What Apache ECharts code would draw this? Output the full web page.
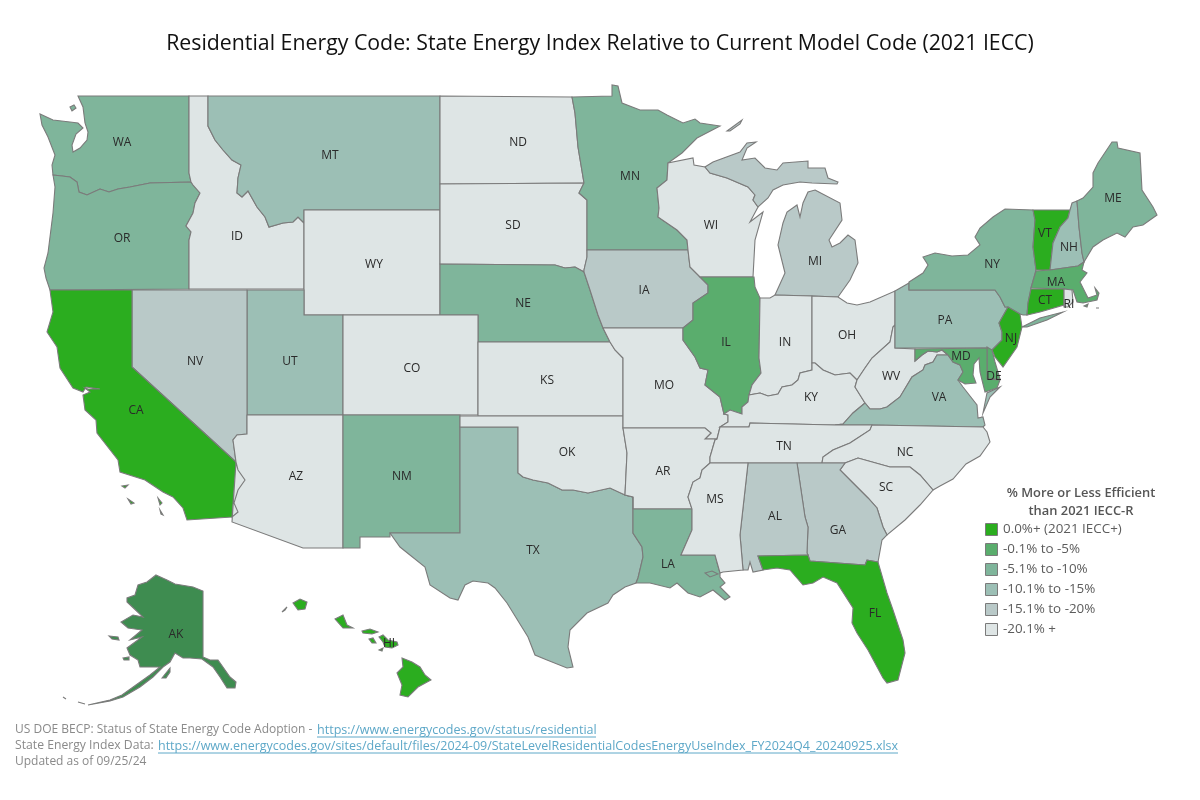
<!DOCTYPE html>
<html><head><meta charset="utf-8">
<style>html,body{margin:0;padding:0;background:#fff}#c{width:1200px;height:800px}</style>
<script src="https://cdn.jsdelivr.net/npm/echarts@6/dist/echarts.min.js"></script>
</head><body><div id="c"></div>
<script>
// ---------- data ----------
const binLabels = ['0.0%+ (2021 IECC+)','-0.1% to -5%','-5.1% to -10%','-10.1% to -15%','-15.1% to -20%','-20.1% +'];
const binColors = ['#2bad1f','#5aad6d','#7fb59b','#9cbfb5','#b9c9c8','#dee5e5'];
const outsideLegendColor = '#3e8c50';
const statesBin0 = ['CA','FL','VT','CT','NJ','HI'];
const statesBin1 = ['IL','MA','MD','DE'];
const statesBin2 = ['WA','OR','MN','NE','NM','NY','ME','LA'];
const statesBin3 = ['MT','UT','TX','PA','VA','NH'];
const statesBin4 = ['NV','IA','MI','AL','GA'];
const statesBin5 = ['ID','WY','ND','SD','CO','KS','OK','MO','AR','MS','WI','IN','OH','KY','TN','WV','NC','SC','AZ','RI'];
const statesOutside = ['AK'];

// ---------- shared borders (map outline geometry) ----------
const WA_OR=[[53,175],[62,176],[70,177],[77,182],[79,192],[87,195],[100,189],[109,192],[118,189],[130,187],[150,183],[191,182]];
const OR_ID=[[191,182],[193,185],[200,193],[195,203],[193,213],[186,226],[191,232],[189,240],[189,289]];
const ID_MT=[[208,96],[208,126],[215,140],[223,150],[232,160],[241,165],[238,178],[237,193],[242,197],[248,191],[257,207],[265,217],[269,227],[283,223],[293,222],[298,217],[304,223]];
const NV_CA=[[132,290],[132,367],[236,462]];
const CA_AZ=[[236,462],[238,470],[245,480],[238,490],[234,503],[238,512],[232,517]];
const NV_AZ=[[247,415],[247,434],[237,435],[233,440],[236,462]];
const ND_MN=[[572,97],[575,113],[578,147],[584,183]];
const SD_MN=[[584,183],[579,193],[587,200],[587,250]];
const SD_IA=[[587,250],[587,257],[584,270],[584,272]];
const SD_NE=[[440,264],[555,265],[565,268],[575,267],[584,272]];
const NE_IA=[[584,272],[590,290],[598,315],[603,328]];
const NE_MO=[[603,328],[610,342]];
const KS_MO=[[610,342],[615,350],[623,358],[623,416]];
const OK_AR=[[623,428],[627,453],[625,495]];
const TX_RED=[[518,473],[523,477],[533,480],[548,483],[562,490],[573,490],[588,493],[610,488],[625,495],[633,497]];
const TX_LA=[[633,533],[642,547],[643,557],[638,578],[636,583]];
const MN_WI=[[668,163],[667,180],[657,188],[659,208],[658,217],[677,230],[687,240],[688,250]];
const IA_WI=[[688,250],[690,267],[700,277]];
const IA_IL=[[700,277],[708,285],[708,293],[693,303],[693,320],[683,328]];
const MO_IL=[[683,328],[683,340],[695,357],[700,368],[708,370],[705,385],[720,397],[724,414]];
const MO_KY=[[724,414],[728,415],[728,422],[720,427]];
const MO_TN=[[720,427],[717,439]];
const MO_AR=[[717,439],[705,439],[711,433],[705,428],[623,428]];
const AR_TN=[[717,439],[715,440],[710,457],[710,463]];
const AR_MS=[[710,463],[702,470],[700,478],[693,482],[688,497],[692,509]];
const LA_MS=[[692,509],[692,530],[681,555],[715,555],[720,573]];
const WI_MI=[[705,167],[710,173],[727,178],[748,187],[755,195],[753,200],[758,207]];
const IL_IN=[[760,298],[759,358],[761,373],[752,385],[749,395]];
const IL_KY=[[749,395],[748,402],[742,407],[742,414],[730,410],[724,414]];
const IN_KY=[[812,363],[812,370],[800,373],[798,380],[792,385],[782,387],[778,394],[768,396],[760,393],[749,395]];
const OH_KY=[[812,363],[815,363],[823,370],[835,375],[850,373],[857,380]];
const OH_WV=[[857,380],[865,368],[872,358],[890,342],[893,327],[895,325]];
const KY_WV=[[857,380],[855,387],[865,403]];
const KY_VA=[[865,403],[853,413],[843,424],[835,425]];
const WV_VA=[[865,403],[870,409],[880,409],[887,407],[900,397],[912,377],[923,370],[925,365],[933,362],[937,355],[948,355]];
const WV_MD=[[915,349],[915,361],[922,355],[928,351],[937,352],[942,350],[948,355]];
const TN_TOP=[[720,427],[749,427],[750,423],[835,425]];
const TN_NC=[[872,425],[870,430],[850,443],[833,450],[823,457],[822,463]];
const NC_SC=[[845,463],[858,458],[890,467],[910,467],[920,475],[933,490]];
const SC_GA=[[845,463],[840,470],[853,483],[868,498],[877,508],[883,527],[887,535]];
const AL_GA=[[797,463],[805,517],[808,527],[807,553],[808,555]];
const AL_MS=[[748,463],[740,535],[743,570]];
const VT_NH=[[1070,210],[1068,218],[1060,227],[1053,243],[1050,270]];
const NY_VT=[[1033,210],[1035,220],[1033,247],[1036,270]];
const NY_MA=[[1036,270],[1031,288]];
const NY_CT=[[1031,288],[1028,303],[1027,315]];
const NY_PA=[[909,290],[995,290],[1000,297],[1005,307],[1008,307]];
const PA_NJ=[[1008,307],[999,323],[1002,332],[1002,340],[992,350]];
const NH_ME=[[1077,201],[1079,227],[1082,253],[1084,262]];
const C=(...a)=>[].concat(...a);
const R=a=>a.slice().reverse();

// ---------- state shapes ----------
const shapes = {
 WA:[C([[78,96],[189,96],[189,173],[191,182]],R(WA_OR),[[52,165],[55,155],[48,137],[42,125],[40,114],[53,120],[70,122],[78,123],[83,128],[76,134],[72,145],[73,152],[80,148],[87,140],[88,132],[85,123],[83,107]]),[[70,107],[74,105],[76,108],[72,111]]],
 OR:[C(WA_OR,OR_ID,[[50,290],[46,278],[44,268],[48,253],[53,213],[55,187]])],
 ID:[C([[189,96]],ID_MT,[[304,289]],R(OR_ID),[[191,182],[189,173]])],
 MT:[C(ID_MT,[[304,210],[440,210],[440,96]])],
 WY:[[[304,210],[440,210],[440,315],[304,315]]],
 ND:[C([[440,96]],ND_MN,[[440,184]])],
 SD:[C([[440,184],[584,183]],SD_MN,SD_IA,R(SD_NE))],
 NE:[C(SD_NE,NE_IA,NE_MO,[[478,342],[478,315],[440,315]])],
 UT:[[[247,290],[304,290],[304,315],[343,315],[343,415],[247,415]]],
 CO:[[[343,315],[478,315],[478,415],[343,415]]],
 NV:[C(NV_CA,R(NV_AZ),[[247,290]])],
 CA:[C([[50,290]],NV_CA,CA_AZ,[[187,520],[183,508],[173,497],[163,492],[145,480],[120,472],[118,460],[97,433],[96,420],[85,410],[83,395],[90,392],[85,388],[84,389],[88,389],[100,389],[86,387],[83,392],[73,388],[60,368],[57,347],[47,332],[53,312]]),
     [[122,486],[128,485],[125,488]],[[128,499],[134,503],[131,504]],[[158,498],[162,503],[160,505]],[[160,510],[163,515],[161,514]]],
 AZ:[C(NV_AZ,R(CA_AZ),[[232,522],[303,548],[343,548],[343,415]])],
 NM:[[[343,415],[460,415],[460,533],[390,533],[390,537],[360,537],[360,548],[343,548]]],
 TX:[C([[460,427],[518,427]],TX_RED,TX_LA,[[625,587],[613,595],[608,603],[587,613],[570,630],[568,647],[573,667],[567,668],[547,660],[535,655],[528,637],[507,603],[495,588],[488,583],[473,581],[465,585],[458,600],[450,598],[430,585],[425,567],[400,547],[390,533],[460,533]])],
 KS:[C([[478,342]],R(NE_MO).slice(0,1),KS_MO,[[478,416]])],
 OK:[C([[460,416],[623,416]],OK_AR,R(TX_RED),[[518,427],[460,427]])],
 MN:[C(ND_MN.slice(0,1),[[612,96],[612,85],[618,86],[622,103],[640,110],[658,110],[667,115],[683,123],[695,119],[700,123],[720,126],[697,138],[682,153]],MN_WI,R(SD_MN),R(ND_MN))],
 IA:[C([[587,250],[688,250]],IA_WI,IA_IL,[[603,328]],R(NE_IA),R(SD_IA))],
 MO:[C([[603,328],[683,328]],MO_IL,MO_KY,MO_TN,MO_AR,[[623,416]],R(KS_MO),[[610,342]])],
 AR:[C(R(MO_AR),AR_TN,AR_MS,[[633,509],[633,497],[625,495]],R(OK_AR))],
 LA:[C([[633,497],[633,509]],LA_MS,[[720,577],[725,583],[720,587],[730,597],[725,600],[713,590],[700,597],[688,593],[677,583],[670,588],[650,583]],R(TX_LA))],
 WI:[C(R(MN_WI),[[668,163],[693,158],[694,165]],WI_MI,[[750,222],[763,212],[755,240],[753,277]],R(IA_WI))],
 MI:[C(R(WI_MI),[[713,162],[740,152],[747,143],[756,142],[747,148],[742,160],[755,158],[765,168],[777,170],[783,163],[808,161],[808,168],[825,168],[828,178],[838,182],[837,184],[812,183],[800,182],[783,185],[773,190],[768,198]]),
     [[815,190],[840,203],[842,220],[829,240],[832,247],[840,243],[848,235],[855,240],[858,263],[850,280],[838,297],[812,296],[775,295],[785,273],[778,245],[783,223],[787,212],[797,205],[800,217],[803,203],[808,192]],
     [[727,131],[742,120],[740,124],[730,131]]],
 IL:[C([[700,277],[754,277],[755,287],[760,298]],IL_IN,IL_KY,R(MO_IL),R(IA_IL))],
 IN:[C([[760,298],[770,298],[775,295],[812,296]],IN_KY,R(IL_IN))],
 OH:[C([[812,296],[838,297],[847,303],[857,305],[870,302],[895,291],[895,325]],R(OH_WV),R(OH_KY))],
 KY:[C(OH_KY,KY_WV,KY_VA,R(TN_TOP),R(MO_KY).slice(1),R(IL_KY),R(IN_KY))],
 WV:[C(OH_WV,[[895,348],[915,349]],WV_MD,R(WV_VA),R(KY_WV))],
 VA:[C(R(KY_VA),WV_VA,[[953,362],[960,365],[963,372],[958,380],[963,387],[977,405],[978,418],[983,417],[985,425],[983,427],[872,425]]),[[983,413],[990,397],[997,390],[1000,387],[987,393]]],
 TN:[C(TN_TOP,[[872,425]],TN_NC,[[748,463],[710,463]],R(AR_TN))],
 NC:[C([[872,425],[983,427],[987,432],[990,442],[980,456],[966,464],[953,479],[940,486],[933,490]],R(NC_SC),[[822,463]],R(TN_NC))],
 SC:[C(NC_SC,[[920,505],[905,520],[887,535]],R(SC_GA))],
 GA:[C([[797,463],[845,463]],SC_GA,[[882,540],[878,562],[867,560],[865,565],[810,561]],R(AL_GA))],
 AL:[C([[748,463]],AL_GA,[[758,556],[763,570],[753,572],[750,562],[748,570],[743,570]],R(AL_MS))],
 MS:[C([[710,463]],AL_MS,[[723,572]],R(LA_MS),R(AR_MS))],
 FL:[[[758,556],[808,555],[810,561],[865,565],[867,560],[878,562],[887,593],[893,610],[903,640],[905,653],[898,680],[887,683],[883,678],[868,650],[857,633],[852,623],[853,608],[837,583],[823,577],[813,583],[803,585],[790,570],[777,568],[763,570]]],
 PA:[C([[895,291],[909,283]],NY_PA,PA_NJ,[[987,348],[895,348]])],
 NY:[C([[909,282],[923,273],[928,265],[923,257],[935,253],[952,256],[968,255],[980,245],[975,237],[980,228],[993,217],[1005,209],[1033,210]],NY_VT.slice(1),NY_MA.slice(1),NY_CT.slice(1),[[1023,315],[1020,314]],R(NY_PA)),[[1022,327],[1040,318],[1063,312],[1047,320],[1027,327]]],
 NJ:[C([[1008,307],[1020,314],[1022,327],[1017,347],[1003,367],[995,357]],R(PA_NJ))],
 DE:[[[987,347],[992,350],[995,362],[1000,379],[987,379]]],
 MD:[C([[915,349],[987,348],[987,379],[1000,380],[997,388],[985,392],[983,384],[980,372],[979,358],[974,364],[973,375],[976,383],[965,384],[958,380],[963,372],[960,365],[953,362]],R(WV_MD))],
 VT:[C(NY_VT,R(VT_NH))],
 NH:[C(VT_NH.slice(0,1),[[1072,203]],NH_ME,[[1078,266]],R(VT_NH))],
 ME:[C(NH_ME.slice(0,1),[[1083,198],[1093,187],[1093,173],[1098,163],[1112,142],[1117,142],[1118,148],[1140,153],[1142,190],[1153,207],[1157,215],[1143,225],[1133,227],[1125,237],[1117,233],[1103,240],[1093,247]],[[1084,262]],R(NH_ME))],
 MA:[[[1036,271],[1050,270],[1078,266],[1084,262],[1082,270],[1087,273],[1080,282],[1088,298],[1097,295],[1095,288],[1099,293],[1097,300],[1083,303],[1077,302],[1073,290],[1064,289],[1031,288]],[[1084,306],[1088,304],[1087,307]],[[1096,308],[1099,308],[1098,309]]],
 CT:[[[1031,289],[1064,289],[1064,305],[1040,312],[1027,315],[1028,303]]],
 RI:[[[1064,289],[1072,290],[1073,302],[1068,307],[1064,307]]],
 AK:[[[156,575],[167,580],[175,584],[193,587],[203,591],[203,657],[210,660],[218,660],[230,677],[236,682],[235,688],[227,688],[220,677],[213,667],[202,659],[190,658],[183,658],[175,653],[170,662],[163,667],[153,677],[140,687],[123,697],[110,701],[88,705],[88,704],[110,700],[122,695],[136,685],[150,675],[160,667],[153,667],[140,667],[138,660],[130,655],[127,648],[142,637],[130,640],[142,630],[128,628],[121,622],[133,615],[143,617],[127,602],[127,598],[135,595],[138,585],[147,582]],
     [[109,636],[118,637],[119,640],[112,639]],[[123,658],[129,657],[129,660],[124,660]],[[162,678],[170,668],[170,672],[166,678]],[[63,697],[66,699],[65,700]],[[78,702],[85,704],[84,705]]],
 HI:[[[293,603],[300,599],[307,602],[305,609],[298,610]],[[282,612],[287,607],[285,610]],[[335,619],[343,615],[347,625],[353,628],[343,628]],[[362,631],[370,629],[378,632],[372,634],[363,633]],[[369,639],[373,638],[376,643],[372,643]],[[379,637],[383,635],[388,640],[397,642],[398,645],[392,648],[385,647],[383,642]],[[379,650],[383,648],[382,651]],[[402,658],[412,662],[420,667],[425,675],[431,680],[418,687],[408,697],[400,695],[402,685],[397,673],[403,667]]]
};
const holes = { LA:[[[705,573],[712,571],[718,574],[710,577]]] };
const labelAnchors = {WA:[122,141],OR:[122,237],CA:[136,409],NV:[195,360],ID:[237,235],MT:[330,154],WY:[374,263],UT:[290,360],AZ:[296,475],CO:[412,367],NM:[402,475],ND:[518,141],SD:[513,224],NE:[523,302],KS:[547,379],OK:[567,451],TX:[533,549],MN:[630,175],IA:[644,289],MO:[664,384],AR:[663,470],LA:[668,563],WI:[711,224],IL:[726,341],IN:[785,341],MI:[815,260],OH:[847,334],KY:[811,396],TN:[784,445],MS:[715,498],AL:[775,515],GA:[838,529],FL:[875,612],SC:[886,486],NC:[905,451],VA:[939,396],WV:[891,375],PA:[945,319],NY:[992,263],VT:[1045,232],NH:[1069,246],ME:[1113,197],MA:[1056,281],CT:[1045,299],RI:[1069,303],NJ:[1011,337],DE:[994,375],MD:[961,355],AK:[176,633],HI:[389,642]};

const close = r => r.concat([r[0]]);
const geoJson = {type:'FeatureCollection',features:Object.keys(shapes).map(k=>({
  type:'Feature',
  properties:{name:k,cp:labelAnchors[k]},
  geometry:{type:'MultiPolygon',coordinates:shapes[k].map((r,i)=>{
    const rings=[close(r)];
    if(i===0&&holes[k]) holes[k].forEach(h=>rings.push(close(h)));
    return rings;
  })}
}))};
echarts.registerMap('usStates',geoJson);

const bins=[statesBin0,statesBin1,statesBin2,statesBin3,statesBin4,statesBin5,statesOutside];
const seriesData=[];
bins.forEach((list,i)=>list.forEach(name=>seriesData.push({name,value:i})));

const FONT='"Open Sans"';
const legendTop=523, legendLeft=985, legendPitch=20, legendBox=12;
const boxes=binLabels.map((_,i)=>({type:'rect',silent:true,z:100,
  shape:{x:legendLeft+.5,y:legendTop+i*legendPitch+.5,width:legendBox,height:legendBox},
  style:{fill:'none',stroke:'#7b7b7b',lineWidth:1}}));
const footText=(t,x,y,c,s)=>({type:'text',silent:true,x,y,style:{text:t,fill:c,font:(s||12)+'px '+FONT,textVerticalAlign:'middle'}});
const footLine=(x1,x2,y)=>({type:'line',silent:true,shape:{x1,y1:y,x2,y2:y},style:{stroke:'#5ea8c8',lineWidth:1}});
const linkA='https://www.energycodes.gov/status/residential';
const linkB='https://www.energycodes.gov/sites/default/files/2024-09/StateLevelResidentialCodesEnergyUseIndex_FY2024Q4_20240925.xlsx';

const chart=echarts.init(document.getElementById('c'),null,{renderer:'canvas'});
chart.setOption({
  animation:false,
  backgroundColor:'#fff',
  title:{text:'Residential Energy Code: State Energy Index Relative to Current Model Code (2021 IECC)',left:'center',top:28,
    textStyle:{fontFamily:FONT,fontSize:21.3,fontWeight:'normal',color:'#111'}},
  visualMap:{type:'piecewise',seriesIndex:0,left:legendLeft,top:legendTop,padding:0,itemWidth:13,itemHeight:13,itemGap:legendPitch-13,textGap:5,
    selectedMode:false,hoverLink:false,align:'left',inverse:true,
    pieces:binLabels.map((label,i)=>({value:i,label,color:binColors[i]})),
    outOfRange:{color:outsideLegendColor},
    textStyle:{fontFamily:FONT,fontSize:13.4,color:'#5c5c5c'}},
  series:[{type:'map',map:'usStates',silent:true,
    projection:{project:p=>p,unproject:p=>p},
    boundingCoords:[[0,0],[1200,800]],left:0,top:0,width:1200,height:800,
    itemStyle:{borderColor:'#7b7b7b',borderWidth:1.1},
    label:{show:true,fontFamily:FONT,fontSize:12,color:'#2a2a2a',offset:[0,1.5]},
    emphasis:{disabled:true},select:{disabled:true},selectedMode:false,
    data:seriesData}],
  graphic:[...boxes,
    {type:'text',silent:true,x:1081,y:493,style:{text:'% More or Less Efficient',fill:'#555',font:'600 12.9px '+FONT,textAlign:'center',textVerticalAlign:'middle'}},
    {type:'text',silent:true,x:1081,y:511,style:{text:'than 2021 IECC-R',fill:'#555',font:'600 12.9px '+FONT,textAlign:'center',textVerticalAlign:'middle'}},
    footText('US DOE BECP: Status of State Energy Code Adoption - ',15,730,'#8a8a8a'),
    footText(linkA,317,730,'#5ea8c8',12.55),footLine(317,596,737),
    footText('State Energy Index Data: ',15,746,'#8a8a8a',12.2),
    footText(linkB,158,746,'#5ea8c8',12.5),footLine(158,898,753),
    footText('Updated as of 09/25/24',15,762,'#8a8a8a')
  ]
});
</script></body></html>
